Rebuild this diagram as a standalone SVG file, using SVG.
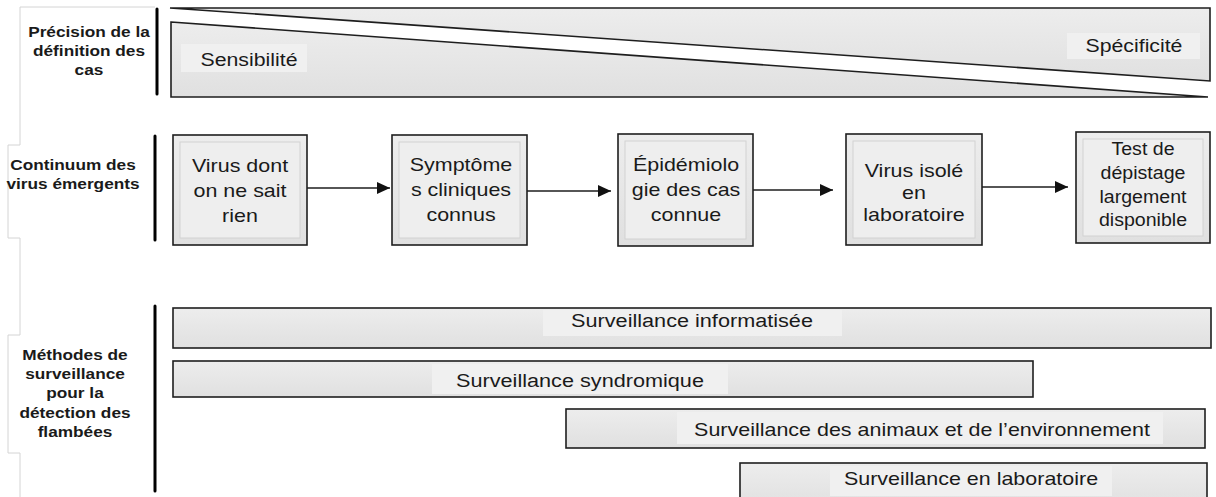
<svg xmlns="http://www.w3.org/2000/svg" width="1216" height="497" viewBox="0 0 1216 497">
<defs>
<linearGradient id="g" x1="0" y1="0" x2="0" y2="1"><stop offset="0" stop-color="#ededed"/><stop offset="1" stop-color="#e0e0e0"/></linearGradient>
<marker id="ah" markerUnits="userSpaceOnUse" markerWidth="14" markerHeight="12" refX="13" refY="6" orient="auto"><path d="M0,0 L13,6 L0,12 Z" fill="#111"/></marker>
</defs>
<style>
.shape{fill:url(#g);stroke:#1e1e1e;stroke-width:1.6}
.inner{fill:#eeeeee;stroke:#d2d2d2;stroke-width:1}
.lbg{fill:#f0f0f0;stroke:none}
.t{font-family:"Liberation Sans",Arial,sans-serif;font-size:19px;fill:#1a1a1a;text-anchor:middle}
.s{font-size:17.5px}
.b{font-family:"Liberation Sans",Arial,sans-serif;font-size:15px;font-weight:bold;fill:#1a1a1a;text-anchor:middle}
.bar{stroke:#000;stroke-width:3;stroke-linecap:round}
.frame{fill:none;stroke:#d4d4d4;stroke-width:1}
.conn{stroke:#1e1e1e;stroke-width:1.6;fill:none;marker-end:url(#ah)}
</style>
<rect width="1216" height="497" fill="#fff"/>
<path class="frame" d="M155,7 H20 V145 H8 V238 H20 V335 H8 V453 H20 V497"/>

<g id="label-precision">
<text class="b" transform="translate(89,0) scale(1.15,1)"><tspan x="0" y="37">Précision de la</tspan><tspan x="0" y="56">définition des</tspan><tspan x="0" y="75">cas</tspan></text>
<line class="bar" x1="157" y1="9" x2="157" y2="94"/>
</g>

<g id="specificite">
<polygon class="shape" points="170,8 1210,8 1210,81"/>
<rect class="lbg" x="1067" y="33" width="133" height="26"/>
<text class="t" transform="translate(1134,52) scale(1.12,1)" x="0" y="0">Spécificité</text>
</g>
<g id="sensibilite">
<polygon class="shape" points="171,22 1208,97 171,97"/>
<rect class="lbg" x="181" y="44" width="126" height="28"/>
<text class="t" transform="translate(249,66) scale(1.12,1)" x="0" y="0">Sensibilité</text>
</g>

<g id="label-continuum">
<text class="b" transform="translate(73,0) scale(1.15,1)"><tspan x="0" y="170">Continuum des</tspan><tspan x="0" y="189">virus émergents</tspan></text>
<line class="bar" x1="155" y1="136" x2="155" y2="240"/>
</g>

<g id="box1">
<rect class="shape" x="173" y="135" width="134" height="110"/>
<rect class="inner" x="180" y="142" width="120" height="96"/>
<text class="t" transform="translate(240,0) scale(1.13,1)"><tspan x="0" y="172">Virus dont</tspan><tspan x="0" y="197">on ne sait</tspan><tspan x="0" y="222">rien</tspan></text>
</g>
<g id="box2">
<rect class="shape" x="392" y="135" width="135" height="110"/>
<rect class="inner" x="399" y="142" width="121" height="96"/>
<text class="t" transform="translate(461,0) scale(1.13,1)"><tspan x="0" y="171">Symptôme</tspan><tspan x="0" y="196">s cliniques</tspan><tspan x="0" y="221">connus</tspan></text>
</g>
<g id="box3">
<rect class="shape" x="618" y="134" width="135" height="112"/>
<rect class="inner" x="625" y="141" width="121" height="98"/>
<text class="t" transform="translate(686,0) scale(1.13,1)"><tspan x="0" y="171">Épidémiolo</tspan><tspan x="0" y="196">gie des cas</tspan><tspan x="0" y="221">connue</tspan></text>
</g>
<g id="box4">
<rect class="shape" x="846" y="134" width="136" height="111"/>
<rect class="inner" x="853" y="141" width="122" height="97"/>
<text class="t" transform="translate(914,0) scale(1.13,1)"><tspan x="0" y="177">Virus isolé</tspan><tspan x="0" y="199">en</tspan><tspan x="0" y="221">laboratoire</tspan></text>
</g>
<g id="box5">
<rect class="shape" x="1076" y="132" width="134" height="111"/>
<rect class="inner" x="1083" y="139" width="120" height="97"/>
<text class="t s" transform="translate(1143,0) scale(1.12,1)"><tspan x="0" y="155">Test de</tspan><tspan x="0" y="179">dépistage</tspan><tspan x="0" y="203">largement</tspan><tspan x="0" y="226">disponible</tspan></text>
</g>

<g id="connectors">
<line class="conn" x1="307" y1="188" x2="390" y2="188"/>
<line class="conn" x1="527" y1="191" x2="611" y2="191"/>
<line class="conn" x1="753" y1="190" x2="833" y2="190"/>
<line class="conn" x1="982" y1="187" x2="1068" y2="187"/>
</g>

<g id="label-methodes">
<text class="b" transform="translate(75,0) scale(1.15,1)"><tspan x="0" y="360">Méthodes de</tspan><tspan x="0" y="379">surveillance</tspan><tspan x="0" y="398">pour la</tspan><tspan x="0" y="418">détection des</tspan><tspan x="0" y="437">flambées</tspan></text>
<line class="bar" x1="155" y1="306" x2="155" y2="491"/>
</g>

<g id="bar-informatisee">
<rect class="shape" x="173" y="308" width="1038" height="40"/>
<rect class="lbg" x="543" y="310" width="299" height="26"/>
<text class="t" transform="translate(692,327) scale(1.14,1)" x="0" y="0">Surveillance informatisée</text>
</g>
<g id="bar-syndromique">
<rect class="shape" x="173" y="361" width="860" height="36"/>
<rect class="lbg" x="432" y="364" width="296" height="30"/>
<text class="t" transform="translate(580,387) scale(1.14,1)" x="0" y="0">Surveillance syndromique</text>
</g>
<g id="bar-animaux">
<rect class="shape" x="566" y="409" width="639" height="39"/>
<rect class="lbg" x="677" y="412" width="486" height="32"/>
<text class="t" transform="translate(922,436) scale(1.13,1)" x="0" y="0">Surveillance des animaux et de l’environnement</text>
</g>
<g id="bar-laboratoire">
<rect class="shape" x="740" y="463" width="467" height="45"/>
<rect class="lbg" x="830" y="466" width="282" height="30"/>
<text class="t" transform="translate(971,485) scale(1.13,1)" x="0" y="0">Surveillance en laboratoire</text>
</g>
</svg>
